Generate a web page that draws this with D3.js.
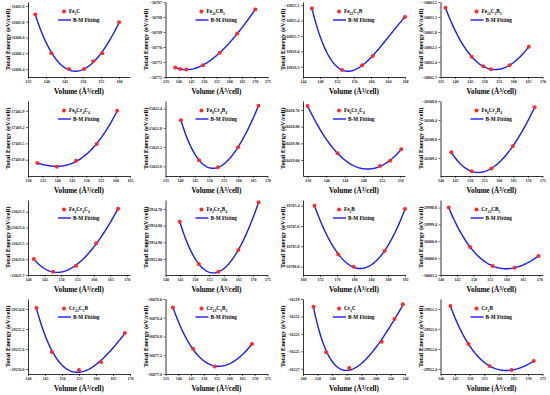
<!DOCTYPE html>
<html><head><meta charset="utf-8">
<script src="https://cdn.jsdelivr.net/npm/d3@7"></script>
<style>body{margin:0;background:#fff}svg{display:block}</style>
</head><body>
<svg id="c" width="550" height="395"></svg>
<script>
// ---- data ----
const names = ["Fe_{3}C","Fe_{23}CB_{5}","Fe_{23}C_{5}B","Fe_{23}C_{3}B_{3}",
  "Fe_{8}Cr_{4}C_{4}","Fe_{8}Cr_{4}B_{4}","Fe_{6}Cr_{2}C_{4}","Fe_{6}Cr_{2}B_{4}",
  "Fe_{2}Cr_{6}C_{4}","Fe_{2}Cr_{6}B_{4}","Fe_{2}B","Cr_{23}CB_{5}",
  "Cr_{23}C_{5}B","Cr_{23}C_{3}B_{3}","Cr_{3}C","Cr_{2}B"];
const xDomains = [[135,163],[135,175],[144,168],[135,170],
  [130,165],[135,170],[135,157],[140,175],
  [140,171],[140,175],[168,192],[140,171],
  [140,170],[135,175],[100,240],[140,175]];
const xTicks = [[135,140,145,150,155,160],[135,140,145,150,155,160,165,170,175],[144,148,152,156,160,164,168],[135,140,145,150,155,160,165,170],
  [130,135,140,145,150,155,160,165],[135,140,145,150,155,160,165,170],[136,140,144,148,152,156],[140,145,150,155,160,165,170,175],
  [140,145,150,155,160,165,170],[140,145,150,155,160,165,170,175],[168,172,176,180,184,188,192],[140,145,150,155,160,165,170],
  [140,145,150,155,160,165,170],[135,140,145,150,155,160,165,170,175],[100,120,140,160,180,200,220,240],[140,145,150,155,160,165,170,175]];
const yDomains = [[-11006.5,-11005.55],[-10772,-10767],[-10926.5,-10925.04],[-10862.7,-10861.2],
  [-17404.1,-17402.72],[-15023.8,-15022.24],[-20419.096,-20418.646],[-20309.58,-20308.0],
  [-23023.7,-23023.226],[-23915.096,-23914.646],[-10786.082,-10785.344],[-30001.2,-29998.53],
  [-29256.1,-29254.6],[-36877.6,-36876.0],[-36227.6,-36219.0],[-29922.5,-29921.0]];
const yTicks = [[-11006.4,-11006.2,-11006.0,-11005.8,-11005.6],[-10772,-10771,-10770,-10769,-10768,-10767],[-10926.3,-10926.0,-10925.7,-10925.4,-10925.1],[-10862.7,-10862.4,-10862.1,-10861.8,-10861.5,-10861.2],
  [-17403.8,-17403.5,-17403.2,-17402.9],[-15023.6,-15023.2,-15022.8,-15022.4],[-20419.0,-20418.9,-20418.8,-20418.7],[-20309.2,-20308.8,-20308.4,-20308.0],
  [-23023.7,-23023.6,-23023.5,-23023.4,-23023.3],[-23915.0,-23914.9,-23914.8,-23914.7],[-10786.0,-10785.8,-10785.6,-10785.4],[-30001.2,-30000.6,-30000.0,-29999.4,-29998.8],
  [-29256.0,-29255.6,-29255.2,-29254.8],[-36877.6,-36877.2,-36876.8,-36876.4,-36876.0],[-36227,-36225,-36223,-36221,-36219],[-29922.4,-29922.0,-29921.6,-29921.2]];
const volumes = [[137.0,141.4,146.3,150.4,152.9,155.4,160.0],[138.8,140.8,143.2,149.7,156.3,163.1,170.2],[146.1,153.2,157.9,160.4,168.0],[136.7,145.7,149.7,152.3,158.7,165.3],
  [133.2,139.9,146.5,153.6,160.6],[140.3,146.5,153.0,159.9,166.9],[136.0,142.45,151.6,153.8,156.2],[143.7,150.7,157.5,164.85,172.3],
  [141.75,147.6,154.6,160.75,167.4],[144.9,151.4,158.15,165.0,171.95],[170.7,176.3,179.9,187.2,192.0],[142.5,149.0,155.8,162.5,169.8],
  [142.5,147.0,155.0,161.5,168.5],[137.9,145.8,154.4,168.9],[114.4,131.8,163.5,208.0,225.6,237.0],[143.4,149.6,156.8,164.4,172.0]];
const energies = [[-11005.707,-11006.2,-11006.4,-11006.4,-11006.30,-11006.2,-11005.805],[-10771.37,-10771.46,-10771.5,-10771.21,-10770.39,-10769.1,-10767.5],[-10925.165,-10926.366,-10926.27,-10926.09,-10925.33],[-10861.314,-10862.296,-10862.485,-10862.545,-10862.465,-10862.095],
  [-17403.86,-17403.93,-17403.82,-17403.51,-17402.9],[-15022.64,-15023.47,-15023.62,-15023.2,-15022.34],[-20418.676,-20418.96,-20419.036,-20419.004,-20418.936],[-20309.08,-20309.48,-20309.42,-20308.947,-20308.133],
  [-23023.599,-23023.679,-23023.641,-23023.5,-23023.281],[-23914.776,-23915.03,-23915.076,-23914.946,-23914.66],[-10785.4,-10785.88,-10786.0,-10785.846,-10785.433],[-29998.8,-30000.2,-30000.88,-30000.94,-30000.52],
  [-29254.78,-29255.66,-29256.02,-29255.86,-29255.28],[-36876.18,-36877.06,-36877.44,-36876.96],[-36219.9,-36225.1,-36226.9,-36223.9,-36221.3,-36219.6],[-29921.14,-29921.9,-29922.34,-29922.42,-29922.24]];

// ---- Birch-Murnaghan (polynomial in V^-2/3) least squares fit ----
function bmFit(V, E){
  const x = V.map(v=>Math.pow(v,-2/3));
  const mx = d3.mean(x), sx = d3.deviation(x);
  const me = d3.mean(E);
  const t = x.map(v=>(v-mx)/sx);
  const deg = Math.min(3, V.length-2);
  const n = deg+1;
  const A = Array.from({length:n},()=>Array(n+1).fill(0));
  t.forEach((tk,k)=>{
    for(let i=0;i<n;i++){
      for(let j=0;j<n;j++) A[i][j]+=Math.pow(tk,i+j);
      A[i][n]+=Math.pow(tk,i)*(E[k]-me);
    }
  });
  for(let i=0;i<n;i++){
    let p=i; for(let r=i+1;r<n;r++) if(Math.abs(A[r][i])>Math.abs(A[p][i])) p=r;
    [A[i],A[p]]=[A[p],A[i]];
    for(let r=0;r<n;r++){ if(r===i) continue; const f=A[r][i]/A[i][i]; for(let c=i;c<=n;c++) A[r][c]-=f*A[i][c]; }
  }
  const coef = A.map((row,i)=>row[n]/row[i]);
  return v=>{const tt=(Math.pow(v,-2/3)-mx)/sx; let s=0; coef.forEach((c,i)=>s+=c*Math.pow(tt,i)); return s+me;};
}

function addFormula(sel, str){
  const re=/_\{([^}]*)\}|([^_]+)/g; let m; let shifted=false;
  while((m=re.exec(str))){
    if(m[1]!==undefined){
      sel.append("tspan").attr("font-size","0.72em").attr("dy",shifted?0:1.2).text(m[1]); shifted=true;
    } else {
      sel.append("tspan").attr("dy",shifted?-1.2:0).text(m[2]); shifted=false;
    }
  }
}

const colW=137.5,rowH=99, PL=28, PR=130, PT=2, PB=77;
const svg=d3.select("#c");
const serif="'Liberation Serif','Times New Roman',serif";

names.forEach((nm,i)=>{
  const col=i%4,row=Math.floor(i/4);
  const g=svg.append("g").attr("transform",`translate(${col*colW},${row*rowH})`);
  const x=d3.scaleLinear().domain(xDomains[i]).range([PL,PR]);
  const y=d3.scaleLinear().domain(yDomains[i]).range([PB,PT]);
  const step=Math.abs(yTicks[i][1]-yTicks[i][0]);
  const yf=d3.format("."+d3.precisionFixed(step)+"f");
  const ax=g.append("g").attr("transform",`translate(0,${PB})`)
    .call(d3.axisBottom(x).tickValues(xTicks[i]).tickSize(2).tickPadding(1.5).tickSizeOuter(0).tickFormat(d3.format("d")));
  const ay=g.append("g").attr("transform",`translate(${PL},0)`)
    .call(d3.axisLeft(y).tickValues(yTicks[i]).tickSize(2).tickPadding(1.5).tickSizeOuter(0).tickFormat(yf));
  [ax,ay].forEach(a=>{
    a.selectAll("text").attr("font-size",4).attr("font-family",serif).attr("font-weight","bold").attr("fill","#222");
    a.select(".domain").attr("stroke","#000").attr("stroke-width",0.8);
    a.selectAll(".tick line").attr("stroke","#000").attr("stroke-width",0.6);
  });
  // fit curve
  const f=bmFit(volumes[i],energies[i]);
  const v0=d3.min(volumes[i]), v1=d3.max(volumes[i]);
  const samples=d3.range(0,101).map(k=>v0+(v1-v0)*k/100);
  g.append("path").datum(samples).attr("fill","none").attr("stroke","#1a1aff").attr("stroke-width",1.4)
    .attr("d",d3.line().x(v=>x(v)).y(v=>y(f(v))));
  // points
  g.selectAll("circle.pt").data(volumes[i].map((v,k)=>[v,energies[i][k]])).join("circle")
    .attr("cx",d=>x(d[0])).attr("cy",d=>y(d[1])).attr("r",2).attr("fill","#ff2a2a");
  // legend
  g.append("circle").attr("cx",64).attr("cy",11.5).attr("r",2).attr("fill","#ff2a2a");
  const lt=g.append("text").attr("x",69).attr("y",13.3).attr("font-size",5.2).attr("font-family",serif).attr("font-weight","bold");
  addFormula(lt,nm);
  g.append("line").attr("x1",58).attr("x2",71).attr("y1",20).attr("y2",20).attr("stroke","#1a1aff").attr("stroke-width",1.4);
  g.append("text").attr("x",73).attr("y",21.8).attr("font-size",5.2).attr("font-family",serif).attr("font-weight","bold").text("B-M Fitting");
  // axis titles
  const xt=g.append("text").attr("x",(PL+PR)/2).attr("y",94).attr("text-anchor","middle")
    .attr("font-size",7.2).attr("font-family",serif).attr("font-weight","bold");
  xt.append("tspan").text("Volume (\u00c5");
  xt.append("tspan").attr("font-size","0.7em").attr("dy",-2.5).text("3");
  xt.append("tspan").attr("dy",2.5).text("/cell)");
  g.append("text").attr("transform",`translate(10,${(PT+PB)/2}) rotate(-90)`).attr("text-anchor","middle")
    .attr("font-size",6.6).attr("font-family",serif).attr("font-weight","bold").text("Total Energy (eV/cell)");
});
</script>
</body></html>
